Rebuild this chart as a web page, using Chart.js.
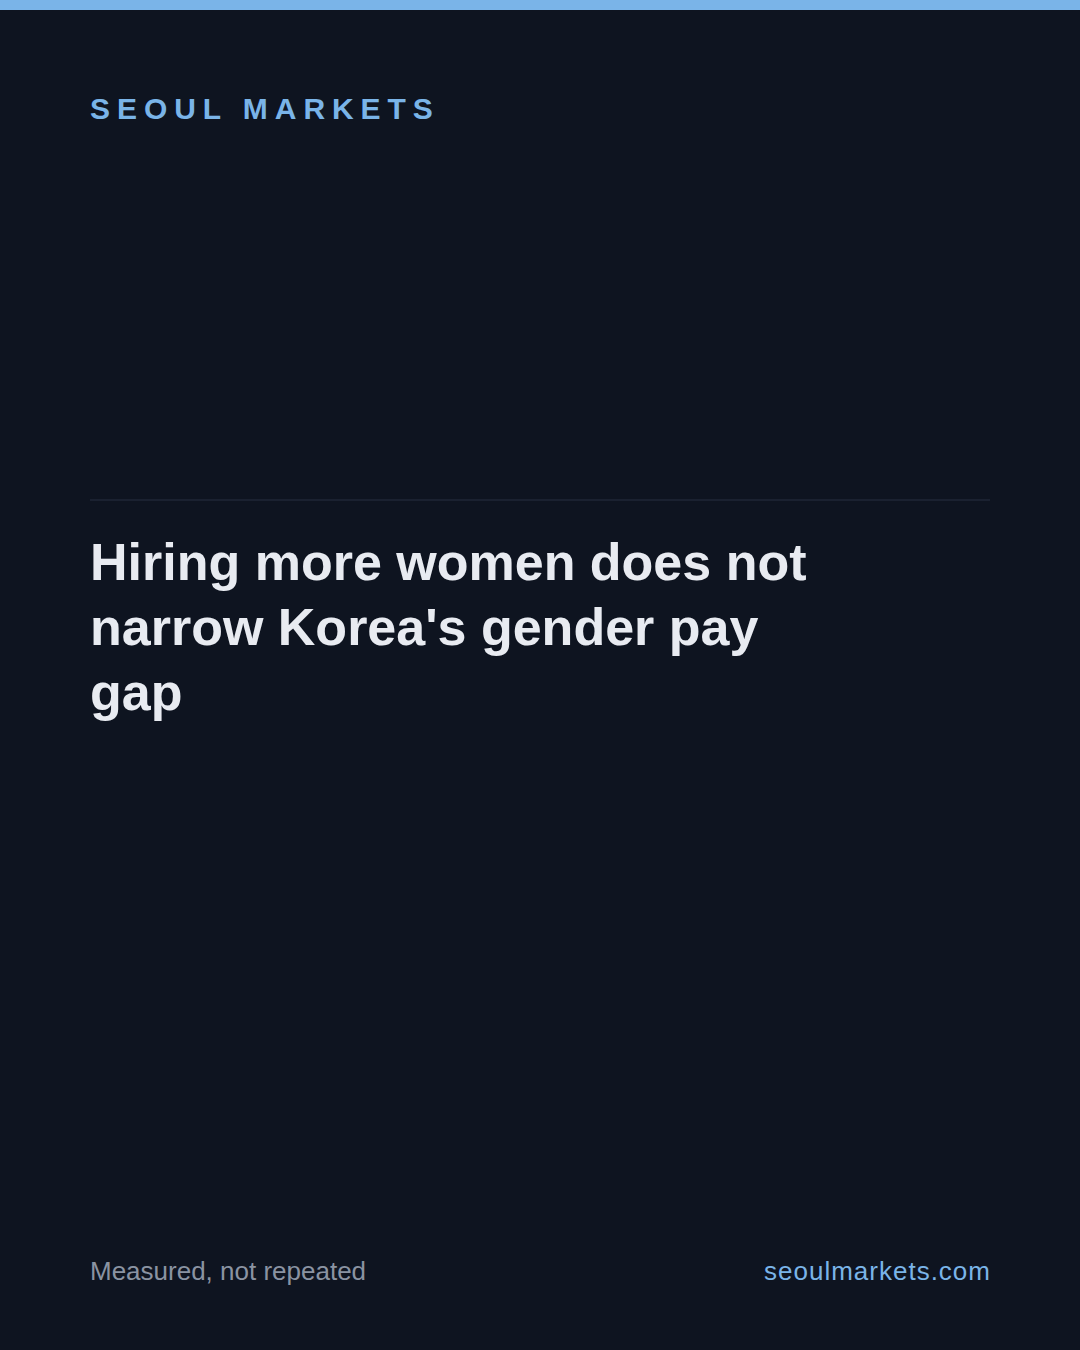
<!DOCTYPE html>
<html>
<head>
<meta charset="utf-8">
<script src="https://cdn.jsdelivr.net/npm/chart.js@4"></script>
<style>
  html, body { margin: 0; padding: 0; }
  body {
    width: 1080px; height: 1350px; overflow: hidden;
    background: #0e1420;
    font-family: "Liberation Sans", Arial, sans-serif;
    position: relative;
  }
  .topbar { position: absolute; left: 0; top: 0; width: 1080px; height: 10px; background: #7ab4e8; }
  .brand {
    position: absolute; left: 90px; top: 91px;
    font-size: 30px; font-weight: bold; letter-spacing: 6.95px;
    color: #7ab4e8; line-height: 36px;
  }
  .rule { position: absolute; left: 90px; top: 499px; width: 900px; height: 2px; background: #1a2130; }
  h1 {
    position: absolute; left: 90px; top: 530px; margin: 0;
    width: 740px;
    font-size: 52px; line-height: 65px; font-weight: bold;
    color: #e8ebf1;
  }
  .chartbox { position: absolute; left: 90px; top: 760px; width: 900px; height: 440px; }
  .foot { position: absolute; top: 1256px; font-size: 26px; line-height: 30px; }
  .foot.left { left: 90px; color: #8a93a2; }
  .foot.right { right: 89px; color: #7ab4e8; letter-spacing: 1px; }
</style>
</head>
<body>
<div class="topbar"></div>
<div class="brand">SEOUL MARKETS</div>
<div class="rule"></div>
<h1>Hiring more women does not narrow Korea's gender pay gap</h1>
<div class="chartbox"><canvas id="chart"></canvas></div>
<div class="foot left">Measured, not repeated</div>
<div class="foot right">seoulmarkets.com</div>
<script>
// the reference shows no plotted marks, so the series are empty
const years = [];
const employmentRate = [];
const payGap = [];

const ctx = document.getElementById('chart').getContext('2d');
const chart = new Chart(ctx, {
  type: 'line',
  data: {
    labels: years,
    datasets: [
      { label: 'Female employment rate', data: employmentRate, borderColor: '#7ab4e8' },
      { label: 'Gender pay gap', data: payGap, borderColor: '#e8ebf1' }
    ]
  },
  options: {
    responsive: true,
    maintainAspectRatio: false,
    animation: false,
    plugins: { legend: { display: false }, tooltip: { enabled: false } },
    scales: { x: { display: false }, y: { display: false } }
  }
});
</script>
</body>
</html>
